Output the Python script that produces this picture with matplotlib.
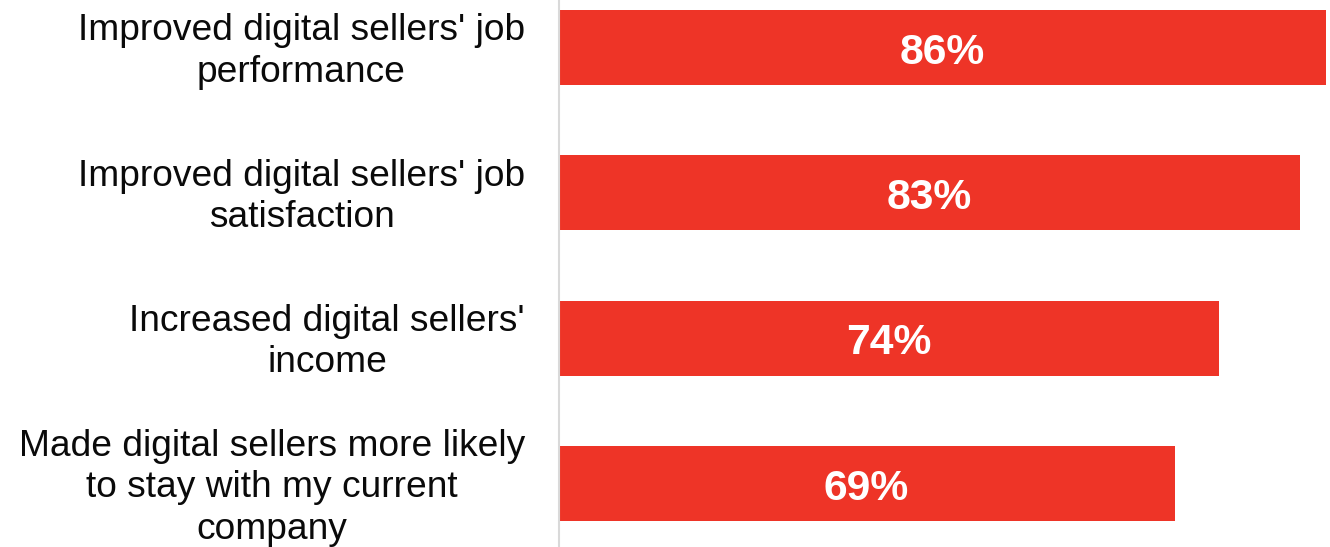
import matplotlib
matplotlib.use("Agg")
import matplotlib.pyplot as plt
from matplotlib.transforms import blended_transform_factory

categories = [
    "Improved digital sellers' job\nperformance",
    "Improved digital sellers' job\nsatisfaction",
    "Increased digital sellers'\nincome",
    "Made digital sellers more likely\nto stay with my current\ncompany",
]
values = [86, 83, 74, 69]
value_labels = ["86%", "83%", "74%", "69%"]

BAR_COLOR = "#EE3427"

plt.rcParams["font.family"] = ["Liberation Sans", "DejaVu Sans"]

fig = plt.figure(figsize=(13.3, 5.47), dpi=100)
left_px = 558.5
ax_w_px = 1330 - left_px
ax = fig.add_axes([left_px / 1330, 0, ax_w_px / 1330, 1])

pos = list(range(len(categories)))
ax.barh(pos, values, height=0.516, color=BAR_COLOR, zorder=2)

for y, v, lab in zip(pos, values, value_labels):
    ax.text(v / 2, y + 0.035, lab, ha="center", va="center", color="white",
            fontsize=30.7, fontweight="bold", zorder=3)

# category labels, right-aligned to the left of the axis, centred lines
trans = blended_transform_factory(ax.transAxes, ax.transData)
for y, cat in zip(pos, categories):
    ax.text(-33.5 / ax_w_px, y + 0.028, cat, transform=trans, ha="right",
            va="center", multialignment="center", linespacing=1.24,
            fontsize=26.7, color="#0a0a0a", clip_on=False)

ax.set_xlim(0, ax_w_px / 8.93)
ax.set_ylim(3.437, -0.327)

ax.set_yticks([])
ax.set_xticks([])

for s in ["top", "right", "bottom"]:
    ax.spines[s].set_visible(False)
ax.spines["left"].set_color("#d9d9d9")
ax.spines["left"].set_linewidth(1.5)

fig.savefig("out.png", dpi=100)
